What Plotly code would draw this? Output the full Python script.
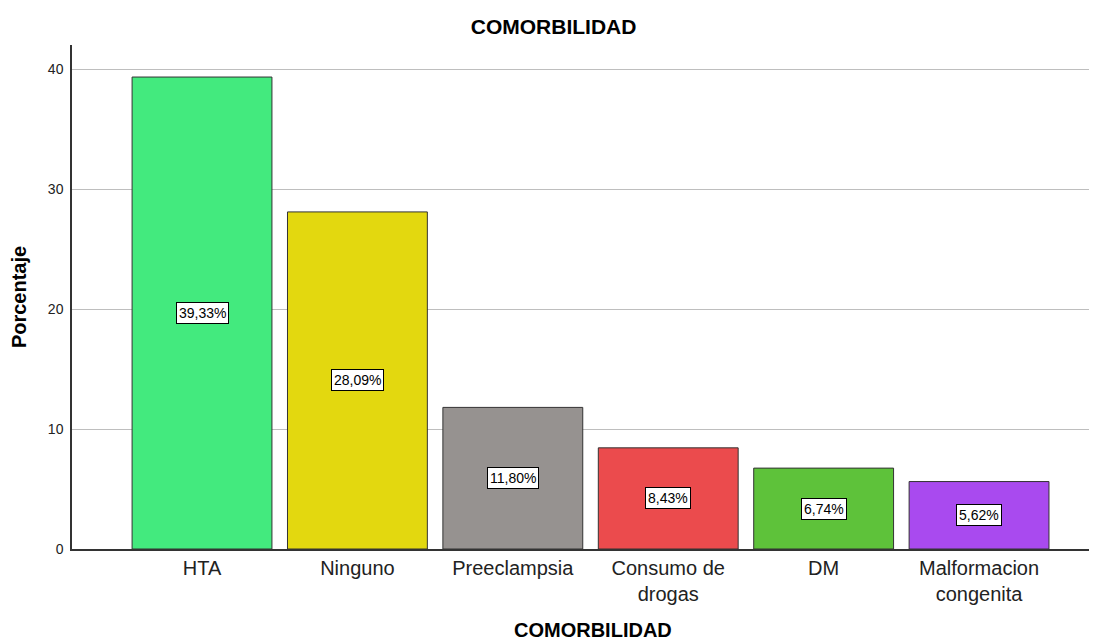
import plotly.graph_objects as go

categories = ["HTA", "Ninguno", "Preeclampsia", "Consumo de<br>drogas", "DM", "Malformacion<br>congenita"]
values = [39.33, 28.09, 11.80, 8.43, 6.74, 5.62]
labels = ["39,33%", "28,09%", "11,80%", "8,43%", "6,74%", "5,62%"]
colors = ["#43EA7E", "#E3D80F", "#969290", "#EB4B4D", "#5EC23A", "#A94AEF"]
y_ticks = [0, 10, 20, 30, 40]

FONT = "Liberation Sans, Arial, sans-serif"

fig = go.Figure()
fig.add_trace(go.Bar(
    x=categories, y=values,
    marker=dict(color=colors, line=dict(color="#333333", width=1)),
    hoverinfo="skip",
))

for c, v, t in zip(categories, values, labels):
    fig.add_annotation(
        x=c, y=v / 2, text=t, showarrow=False,
        font=dict(family=FONT, size=14, color="black"),
        bgcolor="white", bordercolor="black", borderwidth=1, borderpad=2,
    )

# x-axis title placed as an annotation so it can sit exactly where the reference has it
fig.add_annotation(
    xref="paper", yref="paper", x=0.5, y=-0.1617, xshift=8,
    xanchor="center", yanchor="middle", showarrow=False,
    text="<b>COMORBILIDAD</b>", font=dict(family=FONT, size=20, color="black"),
)

# page body has an 8px default margin, so the figure is shifted by 8px
fig.update_layout(
    width=1089, height=635,
    margin=dict(l=64, r=0, t=37, b=94),
    paper_bgcolor="white", plot_bgcolor="white",
    bargap=0.1,
    showlegend=False,
    title=dict(text="<b>COMORBILIDAD</b>", x=0.501, xanchor="center", y=0.970, yanchor="middle",
               font=dict(family=FONT, size=21, color="black")),
    font=dict(family=FONT, color="black"),
)

fig.update_xaxes(
    range=[-0.8366, 5.759],
    showline=True, linecolor="#333333", linewidth=1.5,
    ticks="", tickfont=dict(family=FONT, size=20, color="#222222"),
    showgrid=False,
)
fig.update_yaxes(
    range=[0, 42], tickvals=y_ticks,
    showline=True, linecolor="#333333", linewidth=1.5,
    showgrid=True, gridcolor="#BEBEBE", gridwidth=1,
    ticks="", ticklabelstandoff=4,
    tickfont=dict(family=FONT, size=14, color="#222222"),
    title=dict(text="<b>Porcentaje</b>", font=dict(family=FONT, size=20, color="black"), standoff=16),
    zeroline=False,
)

fig.write_html("out.html")
